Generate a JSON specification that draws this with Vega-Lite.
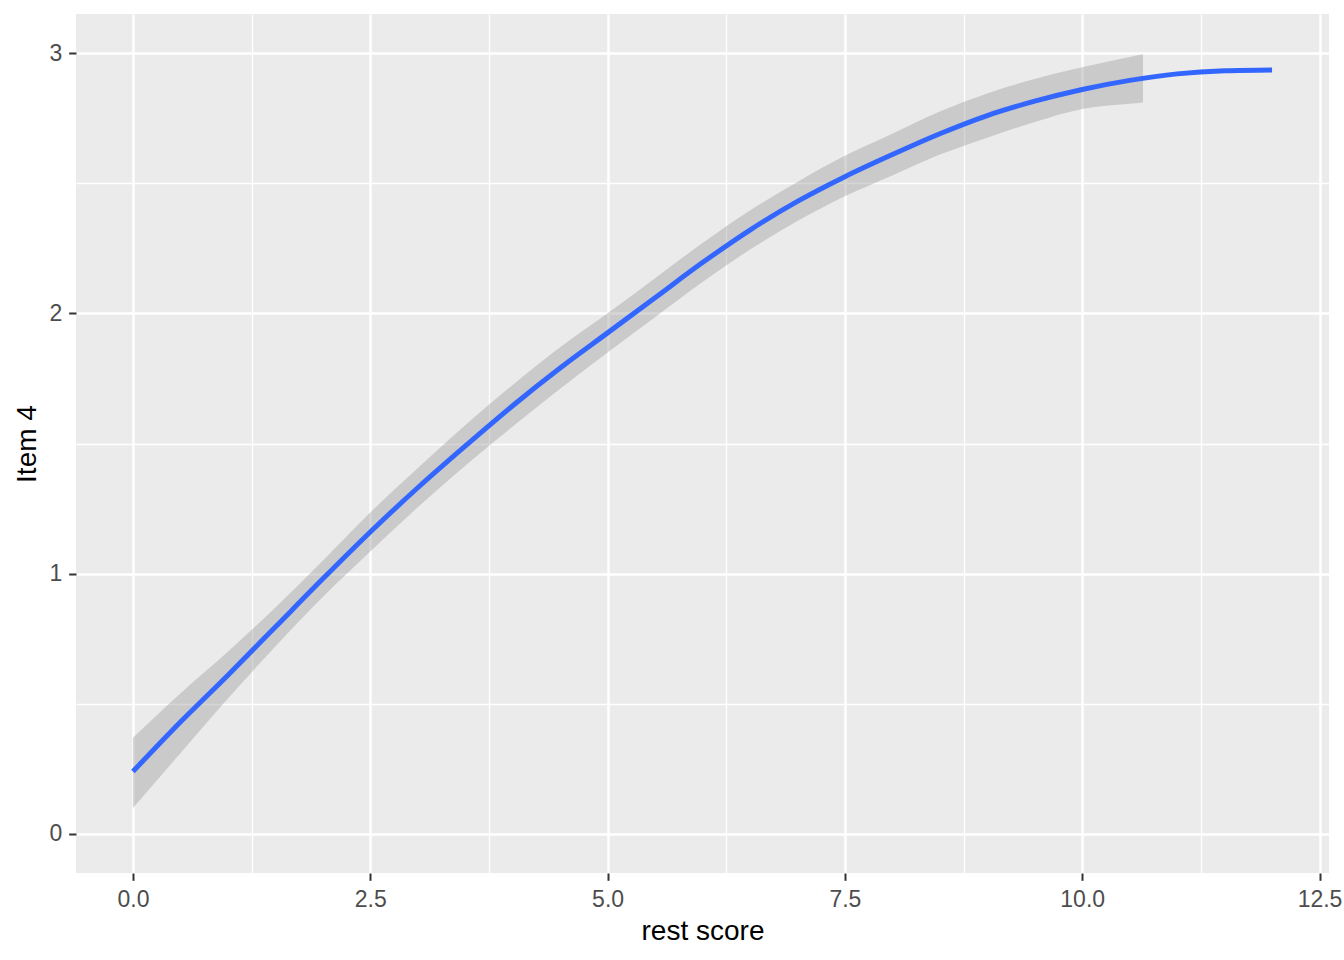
{
  "$schema": "https://vega.github.io/schema/vega-lite/v6.json",
  "width": 1253,
  "height": 859,
  "autosize": {"type": "none"},
  "padding": {"left": 76, "top": 14, "right": 15, "bottom": 87},
  "background": "white",
  "config": {
    "view": {"fill": "#EBEBEB", "stroke": null},
    "axis": {
      "domain": false,
      "gridColor": "#FFFFFF",
      "gridOpacity": 1,
      "tickColor": "#333333",
      "tickWidth": 2,
      "tickSize": 7.3,
      "labelFont": "Liberation Sans",
      "labelFontSize": 23,
      "labelColor": "#4D4D4D",
      "titleFont": "Liberation Sans",
      "titleFontSize": 28,
      "titleFontWeight": "normal",
      "titleColor": "#000000"
    }
  },
  "datasets": {
    "fit": [
      {"x": 0.0, "y": 0.24},
      {"x": 0.5, "y": 0.43},
      {"x": 1.0, "y": 0.61},
      {"x": 1.5, "y": 0.795},
      {"x": 2.0, "y": 0.98},
      {"x": 2.5, "y": 1.16},
      {"x": 3.0, "y": 1.33},
      {"x": 3.5, "y": 1.49},
      {"x": 4.0, "y": 1.645},
      {"x": 4.5, "y": 1.79},
      {"x": 5.0, "y": 1.925},
      {"x": 5.5, "y": 2.06},
      {"x": 6.0, "y": 2.195},
      {"x": 6.5, "y": 2.32},
      {"x": 7.0, "y": 2.43},
      {"x": 7.5, "y": 2.525},
      {"x": 8.0, "y": 2.61},
      {"x": 8.5, "y": 2.69},
      {"x": 9.0, "y": 2.76},
      {"x": 9.5, "y": 2.815},
      {"x": 10.0, "y": 2.86},
      {"x": 10.5, "y": 2.895},
      {"x": 11.0, "y": 2.92},
      {"x": 11.5, "y": 2.932},
      {"x": 12.0, "y": 2.935}
    ],
    "band": [
      {"x": 0.0, "lo": 0.10, "hi": 0.37},
      {"x": 0.5, "lo": 0.31, "hi": 0.54},
      {"x": 1.0, "lo": 0.52, "hi": 0.70},
      {"x": 1.5, "lo": 0.72, "hi": 0.87},
      {"x": 2.0, "lo": 0.91, "hi": 1.05},
      {"x": 2.5, "lo": 1.085, "hi": 1.235},
      {"x": 3.0, "lo": 1.255, "hi": 1.405},
      {"x": 3.5, "lo": 1.415, "hi": 1.57},
      {"x": 4.0, "lo": 1.565, "hi": 1.725},
      {"x": 4.5, "lo": 1.71, "hi": 1.87},
      {"x": 5.0, "lo": 1.85, "hi": 2.0},
      {"x": 5.5, "lo": 1.985, "hi": 2.135},
      {"x": 6.0, "lo": 2.12, "hi": 2.27},
      {"x": 6.5, "lo": 2.245, "hi": 2.395},
      {"x": 7.0, "lo": 2.355, "hi": 2.505},
      {"x": 7.5, "lo": 2.45, "hi": 2.605},
      {"x": 8.0, "lo": 2.53, "hi": 2.69},
      {"x": 8.5, "lo": 2.61, "hi": 2.775},
      {"x": 9.0, "lo": 2.675, "hi": 2.845},
      {"x": 9.5, "lo": 2.735, "hi": 2.9},
      {"x": 10.0, "lo": 2.785, "hi": 2.945},
      {"x": 10.5, "lo": 2.805, "hi": 2.985},
      {"x": 10.64, "lo": 2.81, "hi": 2.995}
    ]
  },
  "layer": [
    {
      "data": {"name": "band"},
      "mark": {"type": "area", "color": "#999999", "opacity": 0.4, "interpolate": "monotone"},
      "encoding": {
        "x": {
          "field": "x",
          "type": "quantitative",
          "scale": {"domain": [-0.6, 12.6], "nice": false, "zero": false},
          "axis": {
            "orient": "bottom",
            "title": "rest score",
            "values": [0, 2.5, 5, 7.5, 10, 12.5],
            "format": ".1f",
            "grid": true,
            "gridWidth": 2.5,
            "labelBaseline": "top",
            "labelPadding": 8,
            "titleX": 626.5,
            "titleY": 66,
            "titleAnchor": "middle",
            "titleAlign": "center",
            "titleBaseline": "alphabetic"
          }
        },
        "y": {
          "field": "lo",
          "type": "quantitative",
          "scale": {"domain": [-0.15, 3.15], "nice": false, "zero": false},
          "axis": {
            "orient": "left",
            "title": "Item 4",
            "values": [0, 1, 2, 3],
            "format": "d",
            "grid": true,
            "gridWidth": 2.5,
            "labelPadding": 7,
            "titleX": -41,
            "titleY": 429.5,
            "titleAngle": -90,
            "titleAlign": "center",
            "titleBaseline": "alphabetic"
          }
        },
        "y2": {"field": "hi"}
      }
    },
    {
      "data": {"name": "fit"},
      "mark": {"type": "line", "color": "#3366FF", "strokeWidth": 5, "interpolate": "monotone"},
      "encoding": {
        "x": {
          "field": "x",
          "type": "quantitative",
          "axis": {
            "orient": "bottom",
            "title": null,
            "values": [1.25, 3.75, 6.25, 8.75, 11.25],
            "labels": false,
            "ticks": false,
            "grid": true,
            "gridWidth": 1.3
          }
        },
        "y": {
          "field": "y",
          "type": "quantitative",
          "axis": {
            "orient": "left",
            "title": null,
            "values": [0.5, 1.5, 2.5],
            "labels": false,
            "ticks": false,
            "grid": true,
            "gridWidth": 1.3
          }
        }
      }
    }
  ],
  "resolve": {"axis": {"x": "independent", "y": "independent"}}
}
